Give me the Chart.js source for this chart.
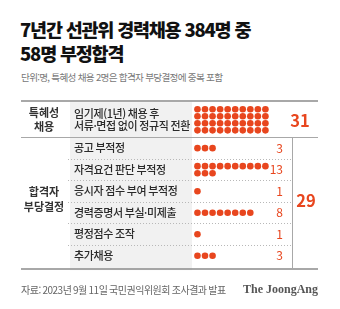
<!DOCTYPE html>
<html lang="ko">
<head>
<meta charset="utf-8">
<script src="https://cdn.jsdelivr.net/npm/chart.js@4.4.0/dist/chart.umd.min.js"></script>
<style>
  html, body { margin: 0; padding: 0; background: #fff; }
  #wrap { position: relative; width: 340px; height: 309px; overflow: hidden; font-family: "Noto Sans CJK KR", "Noto Sans", sans-serif; }
  #chart { position: absolute; left: 0; top: 0; }
  .title { position: absolute; left: 20px; top: 17px; font-size: 18.5px; font-weight: 800; line-height: 24px; letter-spacing: -1.2px; color: #111; white-space: nowrap; }
  .sub { position: absolute; left: 21px; top: 70px; font-size: 9.6px; color: #777; letter-spacing: -0.7px; white-space: nowrap; }
</style>
</head>
<body>
<div id="wrap">
  <div class="title">7년간 선관위 경력채용 384명 중<br>58명 부정합격</div>
  <div class="sub">단위:명, 특혜성 채용 2명은 합격자 부당결정에 중복 포함</div>
  <canvas id="chart" width="340" height="309"></canvas>
</div>
<script>
const groups = ['특혜성\n채용', '합격자\n부당결정']
const groupTotals = [31, 29]
const items = ['임기제(1년) 채용 후\n서류·면접 없이 정규직 전환', '공고 부적정', '자격요건 판단 부적정', '응시자 점수 부여 부적정', '경력증명서 부실·미제출', '평정점수 조작', '추가채용']
const itemGroup = [0, 1, 1, 1, 1, 1, 1]
const itemValues = [31, 3, 13, 1, 8, 1, 3]
const dotCounts = [40, 3, 13, 1, 8, 1, 3] // dots as drawn in the original
const source = '자료: 2023년 9월 11일 국민권익위원회 조사결과 발표'
const brand = 'The JoongAng'

// layout (px)
const LEFT = 21, RIGHT = 318, TOP = 101
const ROW1_H = 36, ROW_H = 22
const COL_X = 68, COL_W = 122, VLINE_X = 292
const DOT_X0 = 198, PITCH_X = 7.7, PITCH_Y = 7.2, PER_ROW = 10
const RED = '#e8461e'
const FONT = '"Noto Sans CJK KR", "Noto Sans", sans-serif'

const BOTTOM = TOP + ROW1_H + ROW_H * (items.length - 1)
const rowCenter = i => i === 0 ? TOP + ROW1_H / 2 : TOP + ROW1_H + (i - 1) * ROW_H + ROW_H / 2

const dots = []
dotCounts.forEach((n, r) => {
  const lines = Math.ceil(n / PER_ROW)
  for (let k = 0; k < n; k++) {
    const col = k % PER_ROW
    const line = Math.floor(k / PER_ROW)
    dots.push({ x: DOT_X0 + col * PITCH_X, y: rowCenter(r) + (line - (lines - 1) / 2) * PITCH_Y })
  }
})

const tablePlugin = {
  id: 'table',
  beforeDatasetsDraw(chart) {
    const { ctx, scales: { x, y } } = chart
    ctx.save()
    // grey label column
    ctx.fillStyle = '#f1f1f1'
    ctx.fillRect(x.getPixelForValue(COL_X), y.getPixelForValue(TOP), COL_W, BOTTOM - TOP)

    // dotted row separators
    ctx.strokeStyle = '#b8b8b8'
    ctx.lineWidth = 1
    ctx.setLineDash([1, 2])
    for (let i = 2; i < items.length; i++) {
      const yy = Math.round(y.getPixelForValue(TOP + ROW1_H + (i - 1) * ROW_H)) + 0.5
      ctx.beginPath()
      ctx.moveTo(COL_X, yy)
      ctx.lineTo(VLINE_X, yy)
      ctx.stroke()
    }
    ctx.setLineDash([])

    // solid rules
    ctx.strokeStyle = '#8c8c8c'
    ctx.lineWidth = 1.5
    ctx.beginPath()
    ctx.moveTo(LEFT, TOP); ctx.lineTo(RIGHT, TOP)
    ctx.moveTo(LEFT, BOTTOM); ctx.lineTo(RIGHT, BOTTOM)
    ctx.stroke()
    ctx.strokeStyle = '#a8a8a8'
    ctx.lineWidth = 1
    ctx.beginPath()
    ctx.moveTo(LEFT, TOP + ROW1_H + 0.5); ctx.lineTo(RIGHT, TOP + ROW1_H + 0.5)
    ctx.moveTo(VLINE_X + 0.5, TOP + ROW1_H); ctx.lineTo(VLINE_X + 0.5, BOTTOM)
    ctx.stroke()
    ctx.restore()
  },
  afterDraw(chart) {
    const { ctx, scales: { y } } = chart
    ctx.save()
    ctx.textBaseline = 'middle'

    // group labels
    ctx.fillStyle = '#333'
    ctx.font = `600 11px ${FONT}`
    ctx.textAlign = 'center'
    groups.forEach((g, gi) => {
      const first = itemGroup.indexOf(gi)
      const top = first === 0 ? TOP : TOP + ROW1_H + (first - 1) * ROW_H
      const cy = gi === 0 ? rowCenter(0) : (top + BOTTOM) / 2 - 3
      const lines = g.split('\n')
      lines.forEach((t, li) => ctx.fillText(t, 44, y.getPixelForValue(cy + (li - (lines.length - 1) / 2) * 15)))
    })

    // item labels
    ctx.textAlign = 'left'
    ctx.fillStyle = '#2a2a2a'
    ctx.font = `500 11px ${FONT}`
    ctx.letterSpacing = '-0.4px'
    items.forEach((t, i) => {
      const lines = t.split('\n')
      lines.forEach((s, li) => ctx.fillText(s, COL_X + 6, y.getPixelForValue(rowCenter(i) + (li - (lines.length - 1) / 2) * 13)))
    })

    // item values (lower block)
    ctx.fillStyle = RED
    ctx.textAlign = 'right'
    ctx.letterSpacing = '0px'
    ctx.font = `400 12px ${FONT}`
    itemValues.forEach((v, i) => {
      if (i === 0) return
      ctx.fillText(String(v), 283, y.getPixelForValue(rowCenter(i)))
    })

    // group totals
    ctx.textAlign = 'center'
    ctx.font = `700 16.5px ${FONT}`
    ctx.fillText(String(groupTotals[0]), 300, y.getPixelForValue(rowCenter(0) + 1))
    ctx.fillText(String(groupTotals[1]), 306, y.getPixelForValue((TOP + ROW1_H + BOTTOM) / 2 - 1))

    // footer
    ctx.textAlign = 'left'
    ctx.fillStyle = '#666'
    ctx.font = `400 10px ${FONT}`
    ctx.letterSpacing = '-0.5px'
    ctx.fillText(source, LEFT, 290)
    ctx.textAlign = 'right'
    ctx.letterSpacing = '0px'
    ctx.fillStyle = '#555'
    ctx.font = `700 12px "Liberation Serif", "DejaVu Serif", serif`
    ctx.fillText(brand, RIGHT, 290)
    ctx.restore()
  },
}

new Chart(document.getElementById('chart'), {
  type: 'scatter',
  data: {
    datasets: [{
      data: dots,
      pointRadius: 3.3,
      pointHoverRadius: 3.3,
      backgroundColor: RED,
      borderWidth: 0,
    }],
  },
  options: {
    responsive: false,
    animation: false,
    devicePixelRatio: 1,
    layout: { padding: 0 },
    events: [],
    plugins: { legend: { display: false }, tooltip: { enabled: false } },
    scales: {
      x: { type: 'linear', display: false, min: 0, max: 340 },
      y: { type: 'linear', display: false, min: 0, max: 309, reverse: true },
    },
  },
  plugins: [tablePlugin],
})
</script>
</body>
</html>
